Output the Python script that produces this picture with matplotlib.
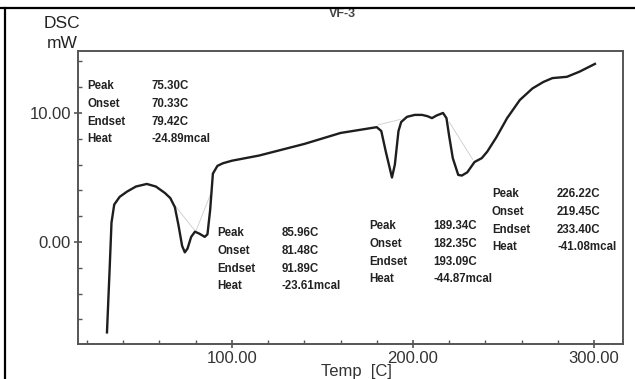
import matplotlib
matplotlib.use('Agg')
import matplotlib.pyplot as plt
from matplotlib.lines import Line2D
from matplotlib.patches import Rectangle
from matplotlib.ticker import MultipleLocator, FormatStrFormatter

# DSC trace
temp = [31, 32.5, 33.5, 35, 38, 42, 47, 53, 58, 63, 66, 68.5, 70.5, 72.5, 74,
        75.5, 77.5, 79.6, 82, 85, 86.5, 88, 89.5, 92, 95, 100, 115, 140, 160,
        180, 182.5, 185, 188.4, 190, 192, 193.5, 196.7, 201, 205, 208, 210.5,
        213, 216.6, 218.5, 220, 222, 225, 227, 230, 234, 238, 241, 246, 252,
        259, 266, 272, 277, 285, 292, 300.5]
dsc = [-7.0, -2.0, 1.5, 2.9, 3.5, 3.9, 4.3, 4.5, 4.3, 3.8, 3.4, 2.7, 1.3, -0.3,
       -0.8, -0.5, 0.4, 0.8, 0.65, 0.4, 0.6, 2.5, 5.3, 5.9, 6.1, 6.3, 6.7, 7.6,
       8.45, 8.9, 8.6, 7.0, 5.0, 6.0, 8.6, 9.3, 9.7, 9.85, 9.85, 9.75, 9.6,
       9.8, 10.0, 9.6, 8.2, 6.5, 5.2, 5.15, 5.4, 6.2, 6.5, 7.0, 8.1, 9.6, 11.0,
       11.9, 12.4, 12.7, 12.8, 13.2, 13.8]

# faint integration baselines
base_t = [[67, 80], [80, 89], [180.7, 193], [220, 233]]
base_v = [[3.1, 0.8], [0.8, 4.0], [9.07, 9.5], [9.3, 6.4]]

# peak tables
peak_names = ['Peak', 'Onset', 'Endset', 'Heat']
peak_vals = [['75.30C', '70.33C', '79.42C', '-24.89mcal'],
             ['85.96C', '81.48C', '91.89C', '-23.61mcal'],
             ['189.34C', '182.35C', '193.09C', '-44.87mcal'],
             ['226.22C', '219.45C', '233.40C', '-41.08mcal']]
# (x of names, x of values, y of first row) in pixels
table_pos = [(87, 152, 86), (217, 282, 233), (369, 433, 226), (492, 557, 194)]

W, H = 635, 379
plt.rcParams['font.family'] = ['Liberation Sans', 'DejaVu Sans']

fig = plt.figure(figsize=(W / 100, H / 100), dpi=100)
ax = fig.add_axes([78 / W, 1 - 344 / H, (623 - 78) / W, (344 - 51) / H])

for bt, bv in zip(base_t, base_v):
    ax.plot(bt, bv, color='#cccccc', lw=0.6)
ax.plot(temp, dsc, color='#1e1e1e', lw=1.7)

ax.set_xlim(15, 316)
ax.set_ylim(-7.9, 14.8)
ax.xaxis.set_minor_locator(MultipleLocator(20))
ax.yaxis.set_major_locator(MultipleLocator(10))
ax.yaxis.set_minor_locator(MultipleLocator(2))
ax.xaxis.set_major_formatter(FormatStrFormatter('%.2f'))
ax.yaxis.set_major_formatter(FormatStrFormatter('%.2f'))
ax.set_xticks([100, 200, 300])
ax.tick_params(which='major', direction='inout', length=6, width=1.2,
               color='#555555', labelsize=12, labelcolor='#333333', pad=2)
ax.tick_params(which='minor', direction='in', length=3, width=1,
               color='#555555')
ax.tick_params(top=False, right=False, which='both')
for s in ax.spines.values():
    s.set_color('#555555')
    s.set_linewidth(1.4)

for (xn, xv, y0), vals in zip(table_pos, peak_vals):
    for i, (n, v) in enumerate(zip(peak_names, vals)):
        yy = 1 - (y0 + i * 17.8) / H
        fig.text(xn / W, yy, n, fontsize=8.3, fontweight='bold',
                 color='#222222', va='center')
        fig.text(xv / W, yy, v, fontsize=8.3, fontweight='bold',
                 color='#222222', va='center')

fig.text(62 / W, 1 - 23 / H, 'DSC', fontsize=12.5, color='#222222',
         ha='center', va='center')
fig.text(62 / W, 1 - 43 / H, 'mW', fontsize=12.5, color='#222222',
         ha='center', va='center')
fig.text(356 / W, 1 - 364 / H, 'Temp  [C]', fontsize=12, color='#333333',
         ha='center', va='top')
fig.text(342 / W, 1 - 14 / H, 'VF-3', fontsize=9, fontweight='bold',
         color='#444444', ha='center', va='center', zorder=1)

# outer frame, top half of the title hidden behind it
fig.add_artist(Rectangle((0, 1 - 8 / H), 1, 8 / H, transform=fig.transFigure,
                         facecolor='white', edgecolor='none', zorder=5))
fig.add_artist(Line2D([0, 1], [1 - 8 / H, 1 - 8 / H], color='black', lw=1.6,
                      zorder=6))
fig.add_artist(Line2D([5 / W, 5 / W], [0, 1 - 8 / H], color='black', lw=1.6,
                      zorder=6))

fig.savefig('out.png', dpi=100)
